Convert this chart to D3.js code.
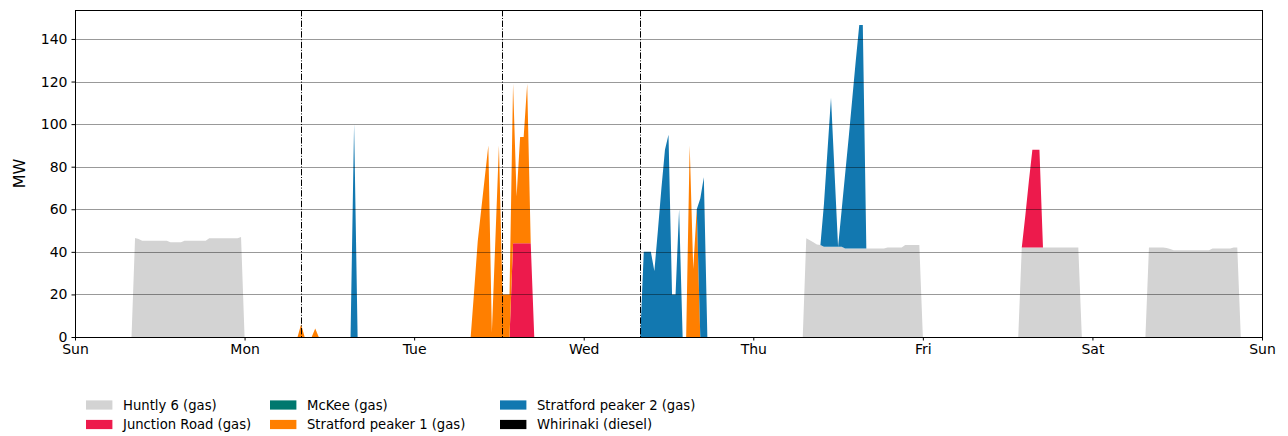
<!DOCTYPE html>
<html>
<head>
<meta charset="utf-8">
<script src="https://cdn.jsdelivr.net/npm/d3@7"></script>
<style>
body { margin: 0; background: #fff; }
text { font-family: "DejaVu Sans", sans-serif; fill: #000; }
</style>
</head>
<body>
<svg id="chart"></svg>
<script>
// week of half-hourly generation, Sun 00:00 to next Sun 00:00
var days = ["Sun", "Mon", "Tue", "Wed", "Thu", "Fri", "Sat", "Sun"];
var periodsPerDay = 48;
var yTicks = [0, 20, 40, 60, 80, 100, 120, 140];

var stations = ["Huntly 6 (gas)", "Junction Road (gas)", "McKee (gas)",
                "Stratford peaker 1 (gas)", "Stratford peaker 2 (gas)", "Whirinaki (diesel)"];
var colours = ["#d3d3d3", "#ed1a4c", "#00786e", "#ff7f00", "#1278b0", "#000000"];

// runs of non-zero MW: start = half-hour period, mw = values from there on
var huntly6 = [
    {start: 17, mw: [46.5, 46, 45.2, 45.2, 45.2, 45.2, 45.2, 45.2, 45.2, 45.2, 44.5, 44.5, 44.5, 44.5,
                     45.2, 45.2, 45.2, 45.2, 45.2, 45.2, 45.2, 46.4, 46.4, 46.4, 46.4, 46.4, 46.4, 46.4,
                     46.4, 46.4, 47]},
    {start: 207, mw: [46.4, 45.5, 44.5, 43.5, 43.2, 42.4, 42.4, 42.4, 42.4, 42.4, 42.4,
                      41.6, 41.6, 41.6, 41.6, 41.6, 41.6, 41.6, 41.6, 41.6, 41.6, 41.6, 41.6,
                      42, 42, 42, 42, 42, 43.2, 43.2, 43.2, 43.2, 43.2]},
    {start: 268, mw: [42, 42, 42, 42, 42, 42, 42, 42, 42, 42, 42, 42, 42, 42, 42, 42, 42]},
    {start: 304, mw: [42, 42, 42, 42, 42, 41.8, 41.3, 40.8, 40.8, 40.8, 40.8, 40.8, 40.8, 40.8,
                      40.8, 40.8, 40.8, 40.8, 41.6, 41.6, 41.6, 41.6, 41.6, 41.6, 42, 42]}
];
var junctionRoad = [
    {start: 124, mw: [44, 44, 44, 44, 44, 44]},
    {start: 269, mw: [15, 31, 46, 46, 46]}
];
var mckee = [];
var stratford1 = [
    {start: 64, mw: [6]},
    {start: 68, mw: [4]},
    {start: 113, mw: [22, 45, 60, 75, 90, 2, 46, 90, 20, 20, 20, 75, 22, 50, 50, 75]},
    {start: 174, mw: [90, 32, 60]}
];
var stratford2 = [
    {start: 79, mw: [100]},
    {start: 161, mw: [40, 40, 40, 31, 50, 70, 88, 95, 20, 20, 60]},
    {start: 177, mw: [65, 75]},
    {start: 212, mw: [20, 45, 70, 35, 0, 17, 35, 52, 70, 88, 105, 105]}
];
var whirinaki = [];

var seriesRuns = [huntly6, junctionRoad, mckee, stratford1, stratford2, whirinaki];

// dash-dot markers (half-hour periods)
var markers = [64, 121, 160];

var W = 1288, H = 436;
var margin = {left: 75, right: 26, top: 10, bottom: 99};
var plotW = W - margin.left - margin.right;
var plotH = H - margin.top - margin.bottom;
var nPeriods = periodsPerDay * 7;

// build the table for d3.stack
var rows = [];
for (var i = 0; i <= nPeriods; i++) {
    var row = {t: i};
    stations.forEach(function(s) { row[s] = 0; });
    rows.push(row);
}
seriesRuns.forEach(function(runs, k) {
    runs.forEach(function(r) {
        r.mw.forEach(function(v, j) { rows[r.start + j][stations[k]] = v; });
    });
});

var stacked = d3.stack().keys(stations)(rows);

var x = d3.scaleLinear().domain([0, nPeriods]).range([0, plotW]);
var y = d3.scaleLinear().domain([0, 153.6]).range([plotH, 0]);

var svg = d3.select("#chart").attr("width", W).attr("height", H);
var g = svg.append("g").attr("transform", "translate(" + margin.left + "," + margin.top + ")");

var area = d3.area()
    .x(function(d) { return x(d.data.t); })
    .y0(function(d) { return y(d[0]); })
    .y1(function(d) { return y(d[1]); });

g.selectAll("path.layer")
    .data(stacked)
    .enter().append("path")
    .attr("class", "layer")
    .attr("d", area)
    .style("fill", function(d, k) { return colours[k]; })
    .style("stroke", "none");

// horizontal grid on top of the areas
g.selectAll("line.grid")
    .data(yTicks.slice(1))
    .enter().append("line")
    .attr("x1", 0).attr("x2", plotW)
    .attr("y1", function(d) { return Math.round(y(d)) + 0.5; })
    .attr("y2", function(d) { return Math.round(y(d)) + 0.5; })
    .style("stroke", "#000").style("stroke-opacity", 0.4).style("stroke-width", 1);

g.selectAll("line.marker")
    .data(markers)
    .enter().append("line")
    .attr("x1", function(d) { return Math.round(x(d)) + 0.5; })
    .attr("x2", function(d) { return Math.round(x(d)) + 0.5; })
    .attr("y1", 0).attr("y2", plotH)
    .style("stroke", "#000").style("stroke-width", 1)
    .style("stroke-dasharray", "6.4,1.6,1,1.6");

// axes
var xAxis = d3.axisBottom(x)
    .tickValues(d3.range(0, nPeriods + 1, periodsPerDay))
    .tickFormat(function(d) { return days[d / periodsPerDay]; })
    .tickSize(3.5).tickPadding(4);
var gx = g.append("g").attr("transform", "translate(0," + plotH + ")").call(xAxis);

var yAxis = d3.axisLeft(y).tickValues(yTicks).tickSize(3.5).tickPadding(4);
var gy = g.append("g").call(yAxis);

[gx, gy].forEach(function(ax) {
    ax.select(".domain").remove();
    ax.selectAll("line").style("stroke", "#000");
    ax.selectAll("text").style("font-size", "14px").style("font-family", "DejaVu Sans");
});

g.append("rect")
    .attr("x", 0.5).attr("y", 0.5)
    .attr("width", plotW).attr("height", plotH)
    .style("fill", "none").style("stroke", "#000").style("stroke-width", 1);

svg.append("text")
    .attr("transform", "translate(25," + (margin.top + plotH / 2) + ") rotate(-90)")
    .attr("text-anchor", "middle")
    .style("font-size", "16px")
    .text("MW");

// legend, two rows, filled column by column
var legCols = [86, 270, 500];
var legRows = [405, 424.5];
var leg = svg.selectAll("g.leg")
    .data(stations)
    .enter().append("g")
    .attr("class", "leg")
    .attr("transform", function(d, k) {
        return "translate(" + legCols[Math.floor(k / 2)] + "," + legRows[k % 2] + ")";
    });
leg.append("rect")
    .attr("x", 0).attr("y", -4.6).attr("width", 26.4).attr("height", 9.2)
    .style("fill", function(d, k) { return colours[k]; });
leg.append("text")
    .attr("x", 37).attr("y", 4.6)
    .style("font-size", "13.2px")
    .text(function(d) { return d; });
</script>
</body>
</html>
